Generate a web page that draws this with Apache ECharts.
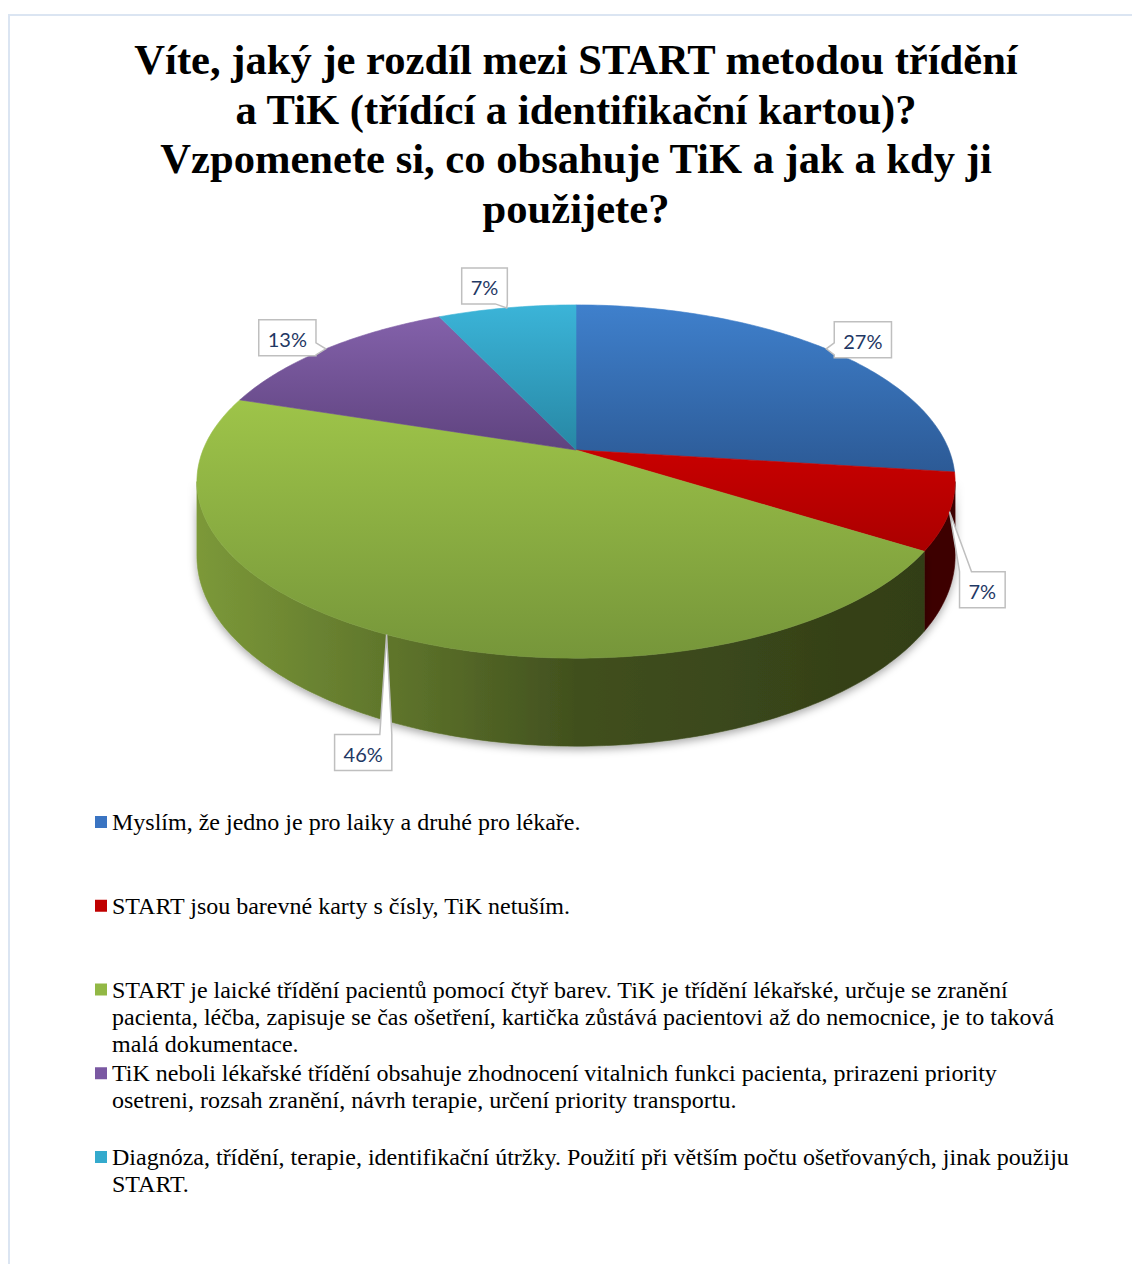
<!DOCTYPE html>
<html>
<head>
<meta charset="utf-8">
<title>TiK a START</title>
<script src="https://cdn.jsdelivr.net/npm/echarts@6/dist/echarts.min.js"></script>
<style>
  html, body { margin: 0; padding: 0; background: #fff; overflow: hidden; }
  #frame { position: absolute; left: 8px; top: 14px; width: 1136px; height: 1270px;
           border: 2px solid #dbe5f2; box-sizing: border-box; background: #fff; }
  #chart { position: absolute; left: 0; top: 0; width: 1132px; height: 1266px; }
</style>
</head>
<body>
<div id="frame"><div id="chart"></div></div>
<script>
// ---- data ----
const titleText = 'Víte, jaký je rozdíl mezi START metodou třídění\na TiK (třídící a identifikační kartou)?\nVzpomenete si, co obsahuje TiK a jak a kdy ji\npoužijete?';
const answers = [
  'Myslím, že jedno je pro laiky a druhé pro lékaře.',
  'START jsou barevné karty s čísly, TiK netuším.',
  'START je laické třídění pacientů pomocí čtyř barev. TiK je třídění lékařské, určuje se zranění pacienta, léčba, zapisuje se čas ošetření, kartička zůstává pacientovi až do nemocnice, je to taková malá dokumentace.',
  'TiK neboli lékařské třídění obsahuje zhodnocení vitalnich funkci pacienta, prirazeni priority osetreni, rozsah zranění, návrh terapie, určení priority transportu.',
  'Diagnóza, třídění, terapie, identifikační útržky. Použití při větším počtu ošetřovaných, jinak použiju START.'
];
const shares = [27, 7, 46, 13, 7];

// ---- styling ----
const legendColors = ['#3a74c2', '#c00000', '#92b845', '#7a58a2', '#34aacd'];
const faceStops = [
  ['#3f80cc', '#2c5a96'],
  ['#c80000', '#aa0000'],
  ['#9ec449', '#76963a'],
  ['#8361aa', '#5f437f'],
  ['#3bb4d8', '#2787a4']
];
const wallBase = ['#3a72bb', '#c00000', '#9bbf47', '#7d5aa4', '#35acd0'];
const wallFactors = [0.8, 0.58, 0.42, 0.34, 0.32];
// label box offsets from the slice anchor (top-left corner of the box)
const labelOffsets = [[8, -27], [10, 60], [-52, 100], [-67, -29], [-45, -40]];

// 3D pie geometry (perspective view of a tilted disk)
const PIE = { cx: 566, cy: 434, rx: 373, ry: 171, persp: 0.1785, depth: 72.3 };
const LABEL_FONT = '20px Lato';
const LEGEND_FONT_SIZE = 24, LEGEND_LINE = 27, LEGEND_WIDTH = 966;
const LEGEND_FIRST = 806, LEGEND_STEP = 83.75;

const measureCtx = document.createElement('canvas').getContext('2d');
function textWidth(str, font) { measureCtx.font = font; return measureCtx.measureText(str).width; }
// greedy word wrap, returns the list of lines
function wrapWords(str, font, width) {
  const lines = [];
  let cur = '';
  str.split(' ').forEach(w => {
    const next = cur ? cur + ' ' + w : w;
    if (cur && textWidth(next, font) > width) { lines.push(cur); cur = w; } else { cur = next; }
  });
  lines.push(cur);
  return lines;
}

function project(theta, bottom) {
  const t = -Math.cos(theta);
  const s = 1 / (1 - PIE.persp * t);
  return [PIE.cx + PIE.rx * Math.sin(theta) * s,
          PIE.cy + PIE.ry * t * s + (bottom ? PIE.depth * s : 0)];
}
function arc(a0, a1, bottom) {
  const n = Math.max(2, Math.ceil((a1 - a0) / (Math.PI / 180)));
  const pts = [];
  for (let k = 0; k <= n; k++) pts.push(project(a0 + (a1 - a0) * k / n, bottom));
  return pts;
}
function scaleHex(hex, f) {
  const c = [1, 3, 5].map(p => parseInt(hex.substr(p, 2), 16));
  return 'rgb(' + c.map(v => Math.round(Math.min(255, v * f))).join(',') + ')';
}
function calloutPoints(bx, by, w, h, tip, half) {
  const [tx, ty] = tip;
  const L = bx, R = bx + w, T = by, B = by + h;
  const clamp = (v, lo, hi) => Math.max(lo, Math.min(hi, v));
  let edge;
  if (ty < T) edge = 'top'; else if (ty > B) edge = 'bottom'; else if (tx < L) edge = 'left'; else edge = 'right';
  const pts = [[L, T]];
  if (edge === 'top') { const c = clamp(tx, L + half, R - half); pts.push([c - half, T], [tx, ty], [c + half, T]); }
  pts.push([R, T]);
  if (edge === 'right') { const c = clamp(ty, T + half, B - half); pts.push([R, c - half], [tx, ty], [R, c + half]); }
  pts.push([R, B]);
  if (edge === 'bottom') { const c = clamp(tx, L + half, R - half); pts.push([c + half, B], [tx, ty], [c - half, B]); }
  pts.push([L, B]);
  if (edge === 'left') { const c = clamp(ty, T + half, B - half); pts.push([L, c + half], [tx, ty], [L, c - half]); }
  return pts;
}

const total = shares.reduce((a, b) => a + b, 0);
const wallFrom = Math.acos(-PIE.persp), wallTo = 2 * Math.PI - wallFrom;

function makeRender(idx) {
  return function (params, api) {
    const v = api.value(0);
    let before = 0;
    for (let k = 0; k < idx; k++) before += shares[k];
    const a0 = before / total * 2 * Math.PI;
    const a1 = (before + v) / total * 2 * Math.PI;
    const children = [];

    // outer wall (front part only)
    const lo = Math.max(a0, wallFrom), hi = Math.min(a1, wallTo);
    if (lo < hi) {
      const pts = arc(lo, hi, false).concat(arc(lo, hi, true).reverse());
      const stops = wallFactors.map((f, k) => ({ offset: [0, 0.3, 0.5, 0.85, 1][k], color: scaleHex(wallBase[idx], f) }));
      const fill = { type: 'linear', x: PIE.cx - PIE.rx * 1.02, y: 0, x2: PIE.cx + PIE.rx * 1.02, y2: 0, global: true, colorStops: stops };
      children.push({ type: 'polygon', shape: { points: pts }, z2: 1,
        style: { fill: fill, stroke: fill, lineWidth: 0.6, shadowBlur: 8, shadowOffsetY: 3, shadowColor: 'rgba(0,0,0,0.35)' } });
    }

    // top face
    const top = [[PIE.cx, PIE.cy]].concat(arc(a0, a1, false));
    const faceFill = { type: 'linear', x: 0, y: 0, x2: 0, y2: 1,
      colorStops: [{ offset: 0, color: faceStops[idx][0] }, { offset: 1, color: faceStops[idx][1] }] };
    children.push({ type: 'polygon', shape: { points: top }, z2: 10,
      style: { fill: faceFill, stroke: faceFill, lineWidth: 0.6 } });

    // percentage callout
    const pct = Math.round(v / total * 100) + '%';
    const tip = project((a0 + a1) / 2, false);
    const w = textWidth(pct, LABEL_FONT) + 18, h = 36;
    const bx = tip[0] + labelOffsets[idx][0], by = tip[1] + labelOffsets[idx][1];
    children.push({ type: 'polygon', shape: { points: calloutPoints(bx, by, w, h, tip, 6) }, z2: 100,
      style: { fill: '#ffffff', stroke: '#bfbfbf', lineWidth: 1.5, lineJoin: 'miter' } });
    children.push({ type: 'text', z2: 101,
      style: { text: pct, x: bx + w / 2, y: by + h / 2 + 1, align: 'center', verticalAlign: 'middle',
               font: LABEL_FONT, fill: '#1f3864' } });

    return { type: 'group', children: children };
  };
}

// one legend block per answer; the marker sits on the first text line
const legendFont = LEGEND_FONT_SIZE + 'px "Liberation Serif"';
const legends = answers.map((name, i) => {
  const lines = wrapWords(name, legendFont, LEGEND_WIDTH);
  const n = lines.length;
  const c = LEGEND_FIRST + i * LEGEND_STEP;
  // blank lines above keep the first text line level with the marker
  const label = new Array(n - 1).fill('').concat(lines).join('\n');
  return {
    data: [name], orient: 'vertical', left: 85, top: c - LEGEND_LINE * (n - 0.5),
    padding: 0, itemWidth: 12, itemHeight: 12, icon: 'rect', selectedMode: false,
    formatter: () => label,
    textStyle: { fontFamily: 'Liberation Serif', fontSize: LEGEND_FONT_SIZE, color: '#000',
                 lineHeight: LEGEND_LINE }
  };
});

const chart = echarts.init(document.getElementById('chart'), null, { renderer: 'svg' });
chart.setOption({
  animation: false,
  backgroundColor: '#ffffff',
  title: {
    text: titleText, left: 'center', top: 19, padding: 0,
    textStyle: { fontFamily: 'Liberation Serif', fontWeight: 'bold', fontSize: 42.6, lineHeight: 49.5, color: '#000' }
  },
  legend: legends,
  series: answers.map((name, i) => ({
    type: 'custom', name: name, coordinateSystem: 'none', silent: true,
    data: [shares[i]], itemStyle: { color: legendColors[i] },
    renderItem: makeRender(i)
  }))
});
</script>
</body>
</html>
